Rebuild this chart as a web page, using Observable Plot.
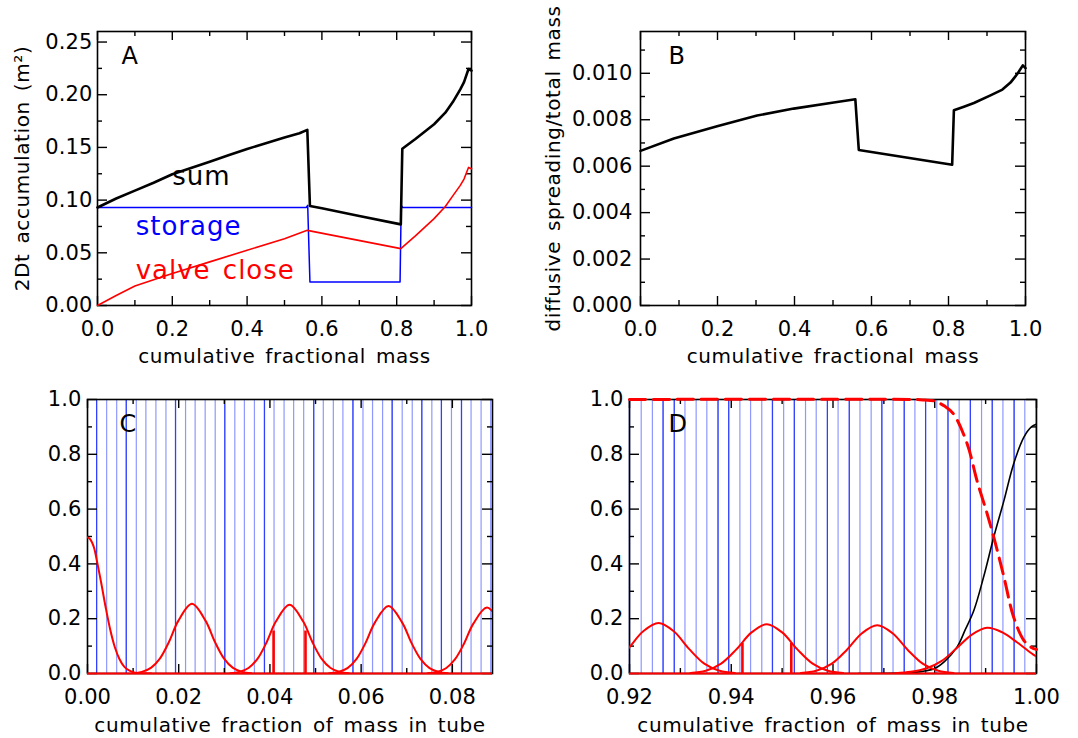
<!DOCTYPE html>
<html><head><meta charset="utf-8">
<script src="https://cdn.jsdelivr.net/npm/d3@7"></script>
<script src="https://cdn.jsdelivr.net/npm/@observablehq/plot@0.6"></script>
<style>
body{margin:0;background:#fff;}
#wrap{position:relative;width:1078px;height:738px;overflow:hidden;background:#fff;}
.panel{position:absolute;}
</style></head><body><div id="wrap"></div>
<script>
// ---------- Panel A ----------
const aSumX = [0, 0.05, 0.1, 0.15, 0.2, 0.25, 0.3, 0.35, 0.4, 0.45, 0.5, 0.54, 0.561, 0.568, 0.6, 0.7, 0.811, 0.815, 0.85, 0.9, 0.93, 0.95, 0.97, 0.98, 0.992, 1.0];
const aSumY = [0.093, 0.1015, 0.109, 0.1165, 0.1245, 0.1305, 0.1365, 0.1425, 0.1485, 0.154, 0.1595, 0.1635, 0.1667, 0.0944, 0.0922, 0.0850, 0.0770, 0.1487, 0.158, 0.172, 0.183, 0.193, 0.205, 0.212, 0.2244, 0.2229];
const aStoX = [0, 0.558, 0.562, 0.568, 0.809, 0.812, 0.816, 1.0];
const aStoY = [0.093, 0.093, 0.095, 0.0224, 0.0224, 0.095, 0.093, 0.093];
const aValX = [0, 0.05, 0.1, 0.2, 0.3, 0.4, 0.5, 0.561, 0.811, 0.85, 0.9, 0.93, 0.95, 0.97, 0.98, 0.992, 1.0];
const aValY = [0, 0.0095, 0.0185, 0.0303, 0.0414, 0.0524, 0.0634, 0.0713, 0.054, 0.066, 0.0824, 0.094, 0.104, 0.114, 0.120, 0.131, 0.1297];
const aLabels = ["sum", "storage", "valve close"];

// ---------- Panel B ----------
const bX = [0, 0.0866, 0.199, 0.303, 0.398, 0.502, 0.558, 0.567, 0.8095, 0.814, 0.84, 0.866, 0.909, 0.94, 0.961, 0.98, 0.993, 1.0];
const bY = [0.00666, 0.00719, 0.00772, 0.00818, 0.00848, 0.00874, 0.00888, 0.00670, 0.00606, 0.00841, 0.00856, 0.00872, 0.00905, 0.0093, 0.0096, 0.0100, 0.01034, 0.01022];

// ---------- Panel C ----------
const cLines = [0.0020, 0.0042, 0.0064, 0.0085, 0.0107, 0.0128, 0.0150, 0.0172, 0.0193, 0.0215, 0.0236, 0.0258, 0.0280, 0.0301, 0.0323, 0.0344, 0.0366, 0.0388, 0.0409, 0.0431, 0.0452, 0.0474, 0.0496, 0.0517, 0.0539, 0.0560, 0.0582, 0.0604, 0.0625, 0.0647, 0.0668, 0.0690, 0.0712, 0.0733, 0.0755, 0.0776, 0.0798, 0.0820, 0.0841, 0.0863, 0.0884];
const cDark = [0.0020, 0.0085, 0.0193, 0.0301, 0.0388, 0.0496, 0.0582, 0.0668, 0.0733, 0.0776, 0.0820];
const c0X = [0, 0.0005, 0.001, 0.0015, 0.002, 0.003, 0.004, 0.005, 0.006, 0.007, 0.008, 0.009, 0.010, 0.011, 0.012, 0.014];
const c0Y = [0.497, 0.492, 0.478, 0.455, 0.416, 0.331, 0.240, 0.159, 0.096, 0.053, 0.026, 0.012, 0.005, 0.002, 0.001, 0];
const c1X = [0.0099, 0.0119, 0.0139, 0.0159, 0.0179, 0.0199, 0.0229, 0.0259, 0.0279, 0.0299, 0.0319, 0.0339, 0.0359];
const c1Y = [0.0013, 0.0059, 0.0204, 0.0552, 0.1166, 0.1921, 0.2545, 0.1921, 0.1166, 0.0552, 0.0204, 0.0059, 0.0013];
const c2X = [0.0313, 0.0333, 0.0353, 0.0373, 0.0393, 0.0413, 0.0443, 0.0473, 0.0493, 0.0513, 0.0533, 0.0553, 0.0573];
const c2Y = [0.0013, 0.0058, 0.0201, 0.0545, 0.1150, 0.1895, 0.251, 0.1895, 0.1150, 0.0545, 0.0201, 0.0058, 0.0013];
const c3X = [0.0530, 0.0550, 0.0570, 0.0590, 0.0610, 0.0630, 0.0660, 0.0690, 0.0710, 0.0730, 0.0750, 0.0770, 0.0790];
const c3Y = [0.0012, 0.0057, 0.0197, 0.0534, 0.1127, 0.1857, 0.246, 0.1857, 0.1127, 0.0534, 0.0197, 0.0057, 0.0012];
const c4X = [0.0746, 0.0766, 0.0786, 0.0806, 0.0826, 0.0846, 0.0876, 0.0906, 0.0926];
const c4Y = [0.0012, 0.0055, 0.0193, 0.0523, 0.1104, 0.1820, 0.241, 0.1820, 0.1104];
const cSpikeX = [0.0408, 0.0478];
const cSpikeY = [0.155, 0.155];

// ---------- Panel D ----------
const dLines = [0.9200, 0.9223, 0.9245, 0.9266, 0.9288, 0.9309, 0.9331, 0.9352, 0.9374, 0.9395, 0.9417, 0.9438, 0.9460, 0.9481, 0.9503, 0.9524, 0.9546, 0.9567, 0.9589, 0.9610, 0.9632, 0.9653, 0.9675, 0.9696, 0.9718, 0.9740, 0.9761, 0.9782, 0.9804, 0.9826, 0.9848, 0.9870, 0.9892, 0.9913, 0.9934, 0.9956, 0.9977, 0.9999];
const dDark = [0.9200, 0.9266, 0.9288, 0.9374, 0.9395, 0.9481, 0.9524, 0.9589, 0.9632, 0.9696, 0.9740, 0.9782, 0.9826, 0.9870, 0.9913, 0.9956];
const d1X = [0.9107, 0.9137, 0.9167, 0.9197, 0.9227, 0.9257, 0.9287, 0.9317, 0.9347, 0.9377, 0.9407];
const d1Y = [0.002, 0.010, 0.036, 0.090, 0.154, 0.184, 0.154, 0.090, 0.036, 0.010, 0.002];
const d2X = [0.9320, 0.9350, 0.9380, 0.9410, 0.9440, 0.9470, 0.9500, 0.9530, 0.9560, 0.9590, 0.9620];
const d2Y = [0.002, 0.010, 0.036, 0.088, 0.150, 0.180, 0.150, 0.088, 0.036, 0.010, 0.002];
const d3X = [0.9537, 0.9567, 0.9597, 0.9627, 0.9657, 0.9687, 0.9717, 0.9747, 0.9777, 0.9807, 0.9837];
const d3Y = [0.002, 0.010, 0.035, 0.086, 0.147, 0.176, 0.147, 0.086, 0.035, 0.010, 0.002];
const d4X = [0.9723, 0.9753, 0.9783, 0.9813, 0.9843, 0.9873, 0.9903, 0.9933, 0.9963, 0.9993, 1.0];
const d4Y = [0.001, 0.006, 0.018, 0.045, 0.092, 0.142, 0.167, 0.150, 0.112, 0.070, 0.062];
const dBlkX = [0.965, 0.972, 0.976, 0.978, 0.980, 0.982, 0.9844, 0.986, 0.9877, 0.9896, 0.9916, 0.9936, 0.9955, 0.9975, 0.999, 1.0];
const dBlkY = [0, 0.001, 0.004, 0.009, 0.018, 0.045, 0.097, 0.16, 0.231, 0.352, 0.498, 0.631, 0.765, 0.862, 0.900, 0.910];
const dDashX = [0.92, 0.976, 0.978, 0.9798, 0.982, 0.9837, 0.9864, 0.9883, 0.9903, 0.9916, 0.9936, 0.9955, 0.9975, 0.999, 1.0];
const dDashY = [1.0, 1.0, 0.998, 0.995, 0.975, 0.947, 0.837, 0.704, 0.583, 0.498, 0.352, 0.206, 0.121, 0.095, 0.088];
const dSpikeX = [0.9422, 0.9518];
const dSpikeY = [0.11, 0.11];

// ---------- ticks ----------
const abXMaj = [0, 0.2, 0.4, 0.6, 0.8, 1.0], abXMin = [0.1, 0.3, 0.5, 0.7, 0.9];
const aYMaj = [0, 0.05, 0.10, 0.15, 0.20, 0.25], aYMin = [0.025, 0.075, 0.125, 0.175, 0.225];
const bYMaj = [0, 0.002, 0.004, 0.006, 0.008, 0.010], bYMin = [0.001, 0.003, 0.005, 0.007, 0.009, 0.011];
const cXMaj = [0, 0.02, 0.04, 0.06, 0.08], cXMin = [0.01, 0.03, 0.05, 0.07];
const dXMaj = [0.92, 0.94, 0.96, 0.98, 1.0], dXMin = [0.93, 0.95, 0.97, 0.99];
const cdYMaj = [0, 0.2, 0.4, 0.6, 0.8, 1.0], cdYMin = [0.1, 0.3, 0.5, 0.7, 0.9];

const titleAB = "cumulative fractional mass";
const titleCD = "cumulative fraction of mass in tube";
const yTitleA = "2Dt accumulation (m²)";
const yTitleB = "diffusive spreading/total mass";

// ---------- helpers ----------
const tbl = (xs, ys) => xs.map((x, i) => ({x, y: ys[i]}));
const FONT = "DejaVu Sans, sans-serif";
const RED = "#ff0000", BLUE = "#0000ff";

function frameTicks(fw, fh, xMaj, xMin, yMaj, yMin) {
  const o = {stroke: "black", strokeWidth: 1.4};
  return [
    Plot.ruleX(xMaj, {...o, insetBottom: fh - 9}),
    Plot.ruleX(xMaj, {...o, insetTop: fh - 9}),
    Plot.ruleX(xMin, {...o, insetBottom: fh - 5}),
    Plot.ruleX(xMin, {...o, insetTop: fh - 5}),
    Plot.ruleY(yMaj, {...o, insetRight: fw - 10}),
    Plot.ruleY(yMaj, {...o, insetLeft: fw - 10}),
    Plot.ruleY(yMin, {...o, insetRight: fw - 5}),
    Plot.ruleY(yMin, {...o, insetLeft: fw - 5})
  ];
}

function makePanel(c) {
  const fw = c.width - c.ml - c.mr, fh = c.height - c.mt - c.mb;
  const svg = Plot.plot({
    width: c.width, height: c.height,
    marginLeft: c.ml, marginRight: c.mr, marginTop: c.mt, marginBottom: c.mb,
    style: {fontFamily: FONT, fontSize: "21px", color: "black", background: "transparent", overflow: "visible"},
    x: {domain: c.xDomain, ticks: c.xMaj, tickFormat: d3.format(c.xFmt), tickSize: 0, tickPadding: 16, label: null},
    y: {domain: c.yDomain, ticks: c.yMaj, tickFormat: d3.format(c.yFmt), tickSize: 0, tickPadding: c.yPad, label: null},
    marks: [
      ...(c.under || []),
      Plot.frame({stroke: "black", strokeWidth: 1.6}),
      ...frameTicks(fw, fh, c.xMaj, c.xMin, c.yMaj, c.yMin),
      ...c.over,
      Plot.text([c.xTitle], {text: d => d, frameAnchor: "bottom", dy: c.xTitleDy, lineAnchor: "middle", fontSize: 20}),
      ...(c.yTitle ? [Plot.text([c.yTitle], {text: d => d, frameAnchor: "left", dx: c.yTitleDx, rotate: -90, textAnchor: "middle", lineAnchor: "middle", fontSize: 20})] : []),
      Plot.text([c.letter], {text: d => d, frameAnchor: "top-left", dx: c.letterDx, dy: c.letterDy, textAnchor: "start", lineAnchor: "top", fontSize: 24})
    ]
  });
  const s = d3.select(svg);
  s.style("letter-spacing", "0.6px").style("word-spacing", "3px");
  s.selectAll("g[aria-label$='tick label']").style("letter-spacing", "0.1px").attr("font-size", 21);
  s.selectAll("g[font-size='26']").style("letter-spacing", "1px");
  s.selectAll("g[font-size='24']").style("letter-spacing", "0px");
  const div = document.createElement("div");
  div.className = "panel";
  div.style.left = c.left + "px";
  div.style.top = c.top + "px";
  div.appendChild(svg);
  document.getElementById("wrap").appendChild(div);
}

// ---------- A ----------
makePanel({
  left: 0, top: 0, width: 540, height: 370, ml: 97, mr: 69, mt: 31, mb: 65, yPad: 5,
  xDomain: [0, 1], yDomain: [0, 0.26], xMaj: abXMaj, xMin: abXMin, yMaj: aYMaj, yMin: aYMin,
  xFmt: ".1f", yFmt: ".2f", xTitle: titleAB, xTitleDy: 51, yTitle: yTitleA, yTitleDx: -75,
  letter: "A", letterDx: 24, letterDy: 15,
  over: [
    Plot.line(tbl(aStoX, aStoY), {x: "x", y: "y", stroke: BLUE, strokeWidth: 1.5}),
    Plot.line(tbl(aValX, aValY), {x: "x", y: "y", stroke: RED, strokeWidth: 1.6}),
    Plot.line(tbl(aSumX, aSumY), {x: "x", y: "y", stroke: "black", strokeWidth: 2.6}),
    Plot.text([aLabels[0]], {text: d => d, x: () => 0.2, y: () => 0.114, textAnchor: "start", lineAnchor: "bottom", fontSize: 26, fill: "black"}),
    Plot.text([aLabels[1]], {text: d => d, x: () => 0.102, y: () => 0.0666, textAnchor: "start", lineAnchor: "bottom", fontSize: 26, fill: BLUE}),
    Plot.text([aLabels[2]], {text: d => d, x: () => 0.102, y: () => 0.0256, textAnchor: "start", lineAnchor: "bottom", fontSize: 26, fill: RED})
  ]
});

// ---------- B ----------
makePanel({
  left: 540, top: 0, width: 538, height: 370, ml: 100, mr: 53, mt: 31, mb: 65, yPad: 8,
  xDomain: [0, 1], yDomain: [0, 0.0118], xMaj: abXMaj, xMin: abXMin, yMaj: bYMaj, yMin: bYMin,
  xFmt: ".1f", yFmt: ".3f", xTitle: titleAB, xTitleDy: 51, yTitle: yTitleB, yTitleDx: -87,
  letter: "B", letterDx: 28, letterDy: 15,
  over: [
    Plot.line(tbl(bX, bY), {x: "x", y: "y", stroke: "black", strokeWidth: 2.6})
  ]
});

// ---------- C ----------
const cCurves = [[c0X, c0Y], [c1X, c1Y], [c2X, c2Y], [c3X, c3Y], [c4X, c4Y]];
makePanel({
  left: 0, top: 370, width: 540, height: 368, ml: 87, mr: 48, mt: 29, mb: 65, yPad: 6,
  xDomain: [0, 0.0888], yDomain: [0, 1], xMaj: cXMaj, xMin: cXMin, yMaj: cdYMaj, yMin: cdYMin,
  xFmt: ".2f", yFmt: ".1f", xTitle: titleCD, xTitleDy: 52, yTitle: null,
  letter: "C", letterDx: 32, letterDy: 15,
  under: [
    Plot.ruleX(cLines, {stroke: "#8e98ff", strokeWidth: 1.2}),
    Plot.ruleX(cDark, {stroke: "#2f40ff", strokeWidth: 1.2})
  ],
  over: [
    ...cCurves.map(([xs, ys]) => Plot.line(tbl(xs, ys), {x: "x", y: "y", stroke: RED, strokeWidth: 2, curve: "catmull-rom", clip: true})),
    Plot.ruleX(tbl(cSpikeX, cSpikeY), {x: "x", y1: 0, y2: "y", stroke: RED, strokeWidth: 2.6}),
    Plot.ruleY([0], {stroke: RED, strokeWidth: 2})
  ]
});

// ---------- D ----------
const dCurves = [[d1X, d1Y], [d2X, d2Y], [d3X, d3Y], [d4X, d4Y]];
makePanel({
  left: 540, top: 370, width: 538, height: 368, ml: 89, mr: 42, mt: 29, mb: 65, yPad: 6,
  xDomain: [0.92, 1.0], yDomain: [0, 1], xMaj: dXMaj, xMin: dXMin, yMaj: cdYMaj, yMin: cdYMin,
  xFmt: ".2f", yFmt: ".1f", xTitle: titleCD, xTitleDy: 52, yTitle: null,
  letter: "D", letterDx: 39, letterDy: 15,
  under: [
    Plot.ruleX(dLines, {stroke: "#8e98ff", strokeWidth: 1.2}),
    Plot.ruleX(dDark, {stroke: "#2f40ff", strokeWidth: 1.2})
  ],
  over: [
    Plot.line(tbl(dBlkX, dBlkY), {x: "x", y: "y", stroke: "black", strokeWidth: 1.6, curve: "catmull-rom", clip: true}),
    ...dCurves.map(([xs, ys]) => Plot.line(tbl(xs, ys), {x: "x", y: "y", stroke: RED, strokeWidth: 2, curve: "catmull-rom", clip: true})),
    Plot.line(tbl(dDashX, dDashY), {x: "x", y: "y", stroke: RED, strokeWidth: 3, strokeDasharray: "16,8", curve: "catmull-rom"}),
    Plot.ruleX(tbl(dSpikeX, dSpikeY), {x: "x", y1: 0, y2: "y", stroke: RED, strokeWidth: 2.6}),
    Plot.ruleY([0], {stroke: RED, strokeWidth: 2})
  ]
});
</script>
</body></html>
